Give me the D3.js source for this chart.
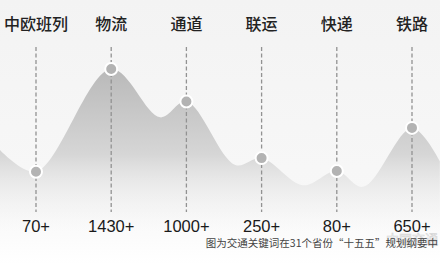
<!DOCTYPE html>
<html>
<head>
<meta charset="utf-8">
<script src="https://cdn.jsdelivr.net/npm/d3@7"></script>
<style>
  html, body { margin: 0; padding: 0; background: #fff; }
  svg { display: block; }
</style>
</head>
<body>
<svg id="chart" width="440" height="264"></svg>
<script>
// keywords and how many times they show up
const categories = ["中欧班列", "物流", "通道", "联运", "快递", "铁路"];
const counts = [70, 1430, 1000, 250, 80, 650];
const countLabels = ["70+", "1430+", "1000+", "250+", "80+", "650+"];

// extra ridge points for the mountain between the keywords
// [position in category steps, value]
const ridge = [
  [-0.48, 360], [0, 70], [1, 1430], [1.65, 790], [2, 1000],
  [2.65, 160], [3, 250], [3.55, -110], [4, 80], [4.35, -130],
  [5, 650], [5.37, 210]
];

const caption = "图为交通关键词在31个省份“十五五”规划纲要中";

var svg = d3.select("#chart");
var width = 440, height = 264;

var defs = svg.append("defs");

// page background: light grey on top, white at the bottom
var bg = defs.append("linearGradient")
  .attr("id", "bg").attr("x1", 0).attr("y1", 0).attr("x2", 0).attr("y2", 1);
bg.append("stop").attr("offset", "0%").attr("stop-color", "#f3f3f3");
bg.append("stop").attr("offset", "80%").attr("stop-color", "#f8f8f8");
bg.append("stop").attr("offset", "100%").attr("stop-color", "#ffffff");

// mountain fill
var mg = defs.append("linearGradient")
  .attr("id", "mountain").attr("gradientUnits", "userSpaceOnUse")
  .attr("x1", 0).attr("y1", 60).attr("x2", 0).attr("y2", 232);
mg.append("stop").attr("offset", "0%").attr("stop-color", "#b6b6b6");
mg.append("stop").attr("offset", "55%").attr("stop-color", "#d6d6d6");
mg.append("stop").attr("offset", "100%").attr("stop-color", "#f6f6f6").attr("stop-opacity", 0);

svg.append("rect").attr("width", width).attr("height", height).attr("fill", "url(#bg)");

var x = d3.scalePoint().domain(categories).range([36, 412]);
var step = x.step();
var xi = d3.scaleLinear().domain([0, 1]).range([x(categories[0]), x(categories[0]) + step]);
var y = d3.scaleLinear().domain([0, 1430]).range([177, 69]);

var area = d3.area()
  .x(function(d) { return xi(d[0]); })
  .y0(236)
  .y1(function(d) { return y(d[1]); })
  .curve(d3.curveCatmullRom.alpha(0.5));

svg.append("path")
  .datum(ridge)
  .attr("d", area)
  .attr("fill", "url(#mountain)");

var g = svg.selectAll(".col")
  .data(categories)
  .enter().append("g")
    .attr("class", "col")
    .attr("transform", function(d) { return "translate(" + x(d) + ",0)"; });

// dashed guide lines
g.append("line")
  .attr("y1", 47).attr("y2", 212)
  .attr("stroke", "#929292")
  .attr("stroke-width", 1.3)
  .attr("stroke-dasharray", "4,2.5");

// keyword titles
g.append("text")
  .attr("y", 30)
  .attr("text-anchor", "middle")
  .attr("font-family", "'Noto Sans CJK SC', sans-serif")
  .attr("font-size", 16)
  .attr("font-weight", 500)
  .attr("fill", "#222")
  .text(function(d) { return d; });

// value labels
g.append("text")
  .attr("y", 232)
  .attr("text-anchor", "middle")
  .attr("font-family", "'Liberation Sans', Arial, sans-serif")
  .attr("font-size", 16.5)
  .attr("fill", "#1a1a1a")
  .text(function(d, i) { return countLabels[i]; });

// markers on the ridge
g.append("circle")
  .attr("cy", function(d, i) { return y(counts[i]); })
  .attr("r", 6)
  .attr("fill", "#b3b3b3")
  .attr("stroke", "#fff")
  .attr("stroke-width", 2);

// faint watermark
svg.append("text")
  .attr("x", 386).attr("y", 244)
  .attr("font-family", "'Noto Sans CJK SC', sans-serif")
  .attr("font-size", 13)
  .attr("fill", "none")
  .attr("stroke", "#bbb")
  .attr("stroke-width", 0.6)
  .attr("opacity", 0.6)
  .text("中国交通");

svg.append("text")
  .attr("x", 438).attr("y", 247)
  .attr("text-anchor", "end")
  .attr("font-family", "'Noto Sans CJK SC', sans-serif")
  .attr("font-size", 10.5)
  .attr("fill", "#444")
  .text(caption);
</script>
</body>
</html>
